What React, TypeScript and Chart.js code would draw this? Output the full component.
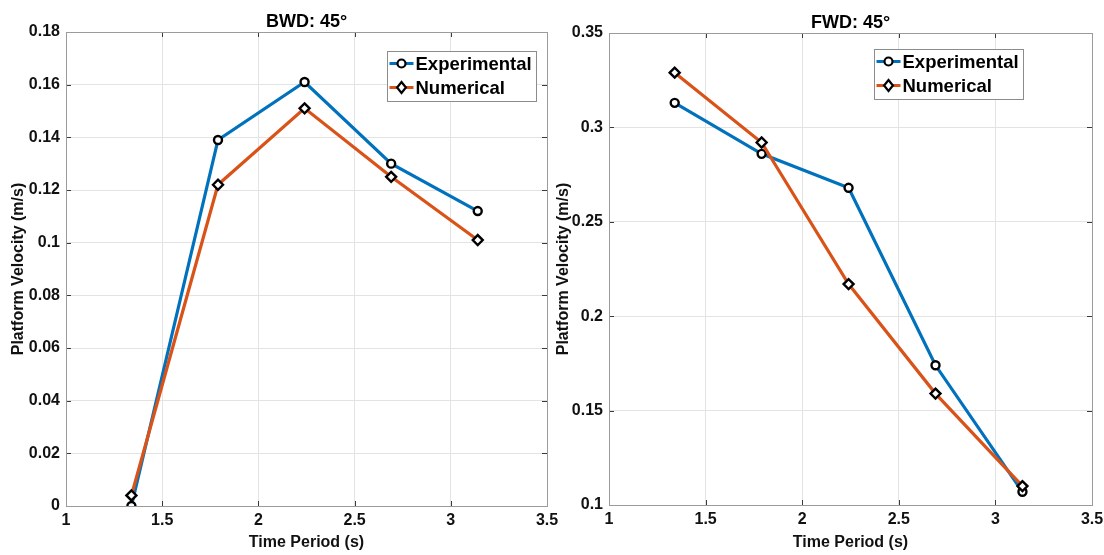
import React, { useEffect, useRef } from 'react';
import { Chart, registerables } from 'chart.js';

Chart.register(...registerables);

// Wave periods tested (s)
const periods = [1.34, 1.79, 2.24, 2.69, 3.14];

// Backward drift, 45° heading
const bwdExperimental = [0, 0.139, 0.161, 0.13, 0.112];
const bwdNumerical = [0.004, 0.122, 0.151, 0.125, 0.101];

// Forward drift, 45° heading
const fwdExperimental = [0.313, 0.286, 0.268, 0.174, 0.107];
const fwdNumerical = [0.329, 0.292, 0.217, 0.159, 0.11];

const seriesNames = ['Experimental', 'Numerical'];
const panelTitles = ['BWD: 45°', 'FWD: 45°'];
const xAxisTitle = 'Time Period (s)';
const yAxisTitle = 'Platform Velocity (m/s)';

const BLUE = '#0072BD';
const ORANGE = '#D95319';
const FONT = '"Liberation Sans", Arial, Helvetica, sans-serif';
const TEXT = '#111111';

type Panel = {
  title: string;
  exp: number[];
  num: number[];
  yMin: number;
  yMax: number;
  yStep: number;
  canvasLeft: number;
  canvasWidth: number;
  padTop: number;
  padRight: number;
  yWidth: number;
  xHeight: number;
  yTitlePad: number;
  legendInsetRight: number;
  legendInsetTop: number;
};

const panels: Panel[] = [
  {
    title: panelTitles[0],
    exp: bwdExperimental,
    num: bwdNumerical,
    yMin: 0,
    yMax: 0.18,
    yStep: 0.02,
    canvasLeft: 0,
    canvasWidth: 580,
    padTop: 32,
    padRight: 33,
    yWidth: 66,
    xHeight: 49,
    yTitlePad: 9.4,
    legendInsetRight: 11,
    legendInsetTop: 19,
  },
  {
    title: panelTitles[1],
    exp: fwdExperimental,
    num: fwdNumerical,
    yMin: 0.1,
    yMax: 0.35,
    yStep: 0.05,
    canvasLeft: 548,
    canvasWidth: 572,
    padTop: 33,
    padRight: 28,
    yWidth: 61,
    xHeight: 50,
    yTitlePad: 6,
    legendInsetRight: 69,
    legendInsetTop: 16,
  },
];

// Plain numeric labels: 1, 1.5, 0.1, 0.12 ...
const formatTick = (v: number | string) => String(Number(Number(v).toFixed(4)));

function drawMarker(ctx: CanvasRenderingContext2D, style: string, x: number, y: number) {
  ctx.save();
  ctx.lineWidth = 2.2;
  ctx.strokeStyle = '#000';
  ctx.fillStyle = '#fff';
  ctx.beginPath();
  if (style === 'circle') {
    ctx.arc(x, y, 4, 0, Math.PI * 2);
  } else {
    const r = 5.5;
    ctx.moveTo(x, y - r);
    ctx.lineTo(x + r * 0.8, y);
    ctx.lineTo(x, y + r);
    ctx.lineTo(x - r * 0.8, y);
    ctx.closePath();
  }
  ctx.fill();
  ctx.stroke();
  ctx.restore();
}

// Axes box, inward tick marks, title and in-plot legend
const panelDecor = {
  id: 'panelDecor',
  beforeDatasetsDraw(chart: any) {
    const { ctx, chartArea } = chart;
    const { left, right, top, bottom } = chartArea;
    const xs = chart.scales.x;
    const ys = chart.scales.y;
    ctx.save();
    ctx.strokeStyle = '#3a3a3a';
    ctx.lineWidth = 1;
    ctx.beginPath();
    xs.ticks.forEach((t: any) => {
      const px = Math.round(xs.getPixelForValue(t.value)) + 0.5;
      ctx.moveTo(px, top);
      ctx.lineTo(px, top + 5);
      ctx.moveTo(px, bottom);
      ctx.lineTo(px, bottom - 5);
    });
    ys.ticks.forEach((t: any) => {
      const py = Math.round(ys.getPixelForValue(t.value)) + 0.5;
      ctx.moveTo(left, py);
      ctx.lineTo(left + 5, py);
      ctx.moveTo(right, py);
      ctx.lineTo(right - 5, py);
    });
    ctx.stroke();
    ctx.strokeStyle = '#9b9b9b';
    ctx.strokeRect(Math.round(left) + 0.5, Math.round(top) + 0.5, Math.round(right - left), Math.round(bottom - top));
    ctx.restore();
  },
  afterDraw(chart: any, _args: any, opts: any) {
    const { ctx, chartArea } = chart;
    const { left, right, top } = chartArea;
    ctx.save();
    // panel title
    ctx.fillStyle = '#000';
    ctx.font = `bold 18px ${FONT}`;
    ctx.textAlign = 'center';
    ctx.textBaseline = 'alphabetic';
    ctx.fillText(opts.title, (left + right) / 2, top - 5);

    // legend
    const w = 149;
    const h = 50;
    const bx = Math.round(right - opts.insetRight - w) + 0.5;
    const by = Math.round(top + opts.insetTop) + 0.5;
    ctx.fillStyle = '#fff';
    ctx.fillRect(bx, by, w, h);
    ctx.strokeStyle = '#8c8c8c';
    ctx.lineWidth = 1;
    ctx.strokeRect(bx, by, w, h);
    const entries = [
      { name: seriesNames[0], color: BLUE, marker: 'circle' },
      { name: seriesNames[1], color: ORANGE, marker: 'diamond' },
    ];
    entries.forEach((e, i) => {
      const ry = by + 12 + i * 24;
      ctx.strokeStyle = e.color;
      ctx.lineWidth = 3;
      ctx.beginPath();
      ctx.moveTo(bx + 2, ry);
      ctx.lineTo(bx + 26, ry);
      ctx.stroke();
      drawMarker(ctx, e.marker, bx + 14, ry);
      ctx.fillStyle = '#000';
      ctx.font = `bold 18.5px ${FONT}`;
      ctx.textAlign = 'left';
      ctx.textBaseline = 'middle';
      ctx.fillText(e.name, bx + 28, ry + 1);
    });
    ctx.restore();
  },
};

function buildConfig(p: Panel): any {
  const tickFont = { family: FONT, size: 16, weight: 'bold' as const };
  return {
    type: 'line',
    data: {
      datasets: [
        {
          label: seriesNames[0],
          data: periods.map((x, i) => ({ x, y: p.exp[i] })),
          borderColor: BLUE,
          borderWidth: 3.2,
          pointStyle: 'circle',
          pointRadius: 4,
          pointBorderWidth: 2.4,
          pointBorderColor: '#000',
          pointBackgroundColor: '#fff',
          tension: 0,
          order: 1,
        },
        {
          label: seriesNames[1],
          data: periods.map((x, i) => ({ x, y: p.num[i] })),
          borderColor: ORANGE,
          borderWidth: 3.2,
          pointStyle: 'rectRot',
          pointRadius: 5,
          pointBorderWidth: 2.4,
          pointBorderColor: '#000',
          pointBackgroundColor: '#fff',
          tension: 0,
          order: 0,
        },
      ],
    },
    options: {
      responsive: false,
      animation: false,
      devicePixelRatio: 1,
      layout: { padding: { left: 0, top: p.padTop, right: p.padRight, bottom: 0 } },
      plugins: {
        legend: { display: false },
        tooltip: { enabled: false },
        title: { display: false },
        panelDecor: {
          title: p.title,
          insetRight: p.legendInsetRight,
          insetTop: p.legendInsetTop,
        },
      },
      scales: {
        x: {
          type: 'linear',
          min: 1,
          max: 3.5,
          afterFit: (s: any) => {
            s.height = p.xHeight;
          },
          ticks: { stepSize: 0.5, font: tickFont, color: TEXT, padding: 5, maxRotation: 0, callback: formatTick },
          grid: { color: '#e3e3e3', drawTicks: false },
          border: { display: false },
          title: {
            display: true,
            text: xAxisTitle,
            font: tickFont,
            color: TEXT,
            padding: { top: 0, bottom: 2.4 },
          },
        },
        y: {
          type: 'linear',
          min: p.yMin,
          max: p.yMax,
          afterFit: (s: any) => {
            s.width = p.yWidth;
          },
          ticks: { stepSize: p.yStep, font: tickFont, color: TEXT, padding: 6, callback: formatTick },
          grid: { color: '#e3e3e3', drawTicks: false },
          border: { display: false },
          title: {
            display: true,
            text: yAxisTitle,
            font: tickFont,
            color: TEXT,
            padding: { top: p.yTitlePad, bottom: 0 },
          },
        },
      },
    },
    plugins: [panelDecor],
  };
}

function PanelChart({ panel }: { panel: Panel }) {
  const ref = useRef<HTMLCanvasElement | null>(null);
  useEffect(() => {
    if (!ref.current) return;
    const chart = new Chart(ref.current, buildConfig(panel));
    return () => chart.destroy();
  }, [panel]);
  return (
    <canvas
      ref={ref}
      width={panel.canvasWidth}
      height={555}
      style={{
        position: 'absolute',
        left: panel.canvasLeft,
        top: 0,
        width: panel.canvasWidth,
        height: 555,
      }}
    />
  );
}

export default function App() {
  return (
    <div
      style={{
        position: 'absolute',
        left: 0,
        top: 0,
        width: 1104,
        height: 555,
        background: '#fff',
        overflow: 'hidden',
      }}
    >
      {panels.map((p) => (
        <PanelChart key={p.title} panel={p} />
      ))}
    </div>
  );
}
